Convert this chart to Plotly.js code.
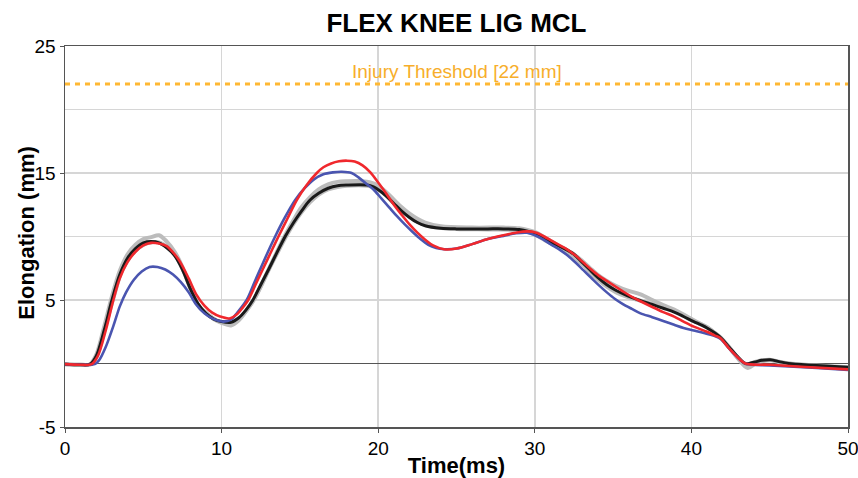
<!DOCTYPE html>
<html>
<head>
<meta charset="utf-8">
<script src="https://cdn.plot.ly/plotly-3.0.1.min.js"></script>
<style>html,body{margin:0;padding:0;background:#fff;}#chart{width:858px;height:478px;}</style>
</head>
<body>
<div id="chart"></div>
<script>
// Black curve
var blackT = [0,1.0,1.6,2.0,2.5,3.0,3.5,4.0,4.5,5.0,5.5,6.0,6.5,7.0,7.5,8.0,8.5,9.0,9.5,10.0,10.6,11.1,11.55,12.0,12.5,13.0,13.5,14.06,14.6,15.1,15.65,16.2,16.8,17.4,18.0,19.3,19.7,20.1,20.5,21.0,21.5,22.0,22.5,23.0,24.0,25.0,26.0,27.0,28.0,29.0,29.6,30.1,30.6,31.2,31.8,32.5,33.0,33.5,34.0,34.6,35.2,35.9,36.75,37.5,38.2,38.9,39.5,40.15,40.6,41.0,41.5,41.9,42.4,42.9,43.45,44.0,44.5,45.05,45.6,46.2,48.0,50.0];
var blackY = [-0.05,-0.1,-0.05,0.6,2.6,5.0,7.0,8.3,9.05,9.5,9.6,9.5,9.1,8.5,7.4,5.9,4.7,3.95,3.5,3.3,3.25,3.6,4.2,5.0,6.2,7.4,8.65,10.0,11.1,12.0,12.87,13.4,13.8,14.0,14.05,14.05,13.9,13.6,13.2,12.6,12.0,11.5,11.1,10.85,10.65,10.6,10.6,10.6,10.6,10.55,10.4,10.2,9.85,9.45,9.1,8.6,8.0,7.4,6.8,6.2,5.75,5.35,4.95,4.65,4.35,4.05,3.7,3.3,3.05,2.8,2.4,2.0,1.3,0.6,0.0,0.1,0.25,0.3,0.15,0.0,-0.15,-0.3];

// Red curve
var redT = [0,1.0,1.7,2.1,2.6,3.09,3.5,4.0,4.5,5.0,5.5,6.0,6.5,7.0,7.35,7.9,8.4,8.9,9.4,9.9,10.5,11.0,11.35,11.7,12.2,12.7,13.2,13.63,14.2,14.8,15.4,16.08,16.5,17.0,17.5,18.0,18.5,19.0,19.5,20.0,20.5,21.0,21.5,22.0,22.5,23.0,23.5,24.2,25.0,26.0,27.0,28.0,28.8,29.5,30.1,30.6,31.1,31.6,32.1,32.6,33.1,33.6,34.1,34.6,35.1,35.6,36.2,36.75,37.5,38.2,38.9,39.5,40.15,41.0,41.5,41.85,42.4,42.9,43.45,45.0,47.0,50.0];
var redY = [-0.05,-0.1,-0.05,0.6,2.6,5.0,6.7,8.0,8.8,9.3,9.5,9.45,9.25,8.6,8.0,6.7,5.4,4.55,4.0,3.7,3.55,3.9,4.4,5.0,6.3,7.6,8.9,10.0,11.4,12.87,14.0,15.0,15.45,15.75,15.92,15.97,15.9,15.6,15.05,14.25,13.4,12.5,11.7,10.95,10.3,9.75,9.3,9.0,9.05,9.4,9.8,10.1,10.3,10.4,10.3,10.0,9.65,9.3,8.95,8.5,7.95,7.4,6.9,6.5,6.1,5.7,5.25,4.9,4.45,4.05,3.69,3.3,2.9,2.5,2.2,2.0,1.2,0.55,0.0,-0.1,-0.25,-0.46];

// Blue curve
var blueT = [0,1.0,1.9,2.2,2.6,3.1,3.5,3.9,4.4,4.9,5.4,5.9,6.4,6.9,7.4,7.9,8.4,8.9,9.4,10.1,10.6,11.0,11.6,12.1,12.6,13.0,13.42,14.0,14.7,15.3,15.9,16.5,17.1,17.68,18.3,18.8,19.3,19.7,20.2,20.7,21.2,21.7,22.2,22.7,23.2,23.7,24.2,25.0,26.0,27.0,28.0,28.8,29.5,30.0,30.5,31.0,31.6,32.1,32.6,33.1,33.6,34.1,34.6,35.1,35.6,36.2,36.75,37.5,38.2,38.9,39.5,40.15,40.8,41.4,41.85,42.4,42.9,43.45,45.0,48.0,50.0];
var blueY = [-0.05,-0.1,-0.05,0.3,1.3,3.0,4.5,5.6,6.6,7.25,7.6,7.6,7.4,7.0,6.4,5.6,4.6,3.95,3.55,3.3,3.45,4.0,5.0,6.4,7.8,8.9,10.0,11.4,12.87,13.8,14.5,14.9,15.05,15.1,15.0,14.6,14.1,13.7,13.0,12.3,11.6,10.95,10.35,9.8,9.35,9.1,9.0,9.05,9.4,9.8,10.05,10.25,10.3,10.1,9.8,9.4,8.95,8.5,7.95,7.35,6.75,6.15,5.6,5.1,4.7,4.3,3.95,3.65,3.35,3.05,2.8,2.6,2.4,2.2,1.95,1.2,0.55,0.0,-0.15,-0.35,-0.5];

// Grey corridor curves
var greyAT = [0,1.0,1.6,2.0,2.5,3.0,3.5,4.0,4.5,5.0,5.5,6.0,6.5,7.0,7.5,8.0,8.5,9.0,9.5,10.0,10.6,11.1,11.55,12.0,12.5,13.0,13.5,14.06,14.6,15.1,15.65,16.2,16.8,17.4,18.0,19.0,19.5,20.0,20.5,21.0,21.5,22.0,22.5,23.0,24.0,26.0,28.0,29.0,29.6,30.1,30.6,31.2,31.8,32.5,33.0,33.5,34.0,34.6,35.2,35.9,36.75,37.5,38.2,38.9,39.5,40.15,40.6,41.0,41.5,41.9,42.4,42.9,43.6,44.1,44.6,45.1,45.6,46.2,48.0,50.0];
var greyAY = [-0.05,-0.1,-0.05,0.7,2.9,5.3,7.3,8.6,9.35,9.8,9.95,10.1,9.6,8.8,7.6,6.0,4.6,4.0,3.5,3.2,3.0,3.4,4.1,4.9,6.1,7.4,8.7,10.1,11.3,12.3,13.1,13.7,14.1,14.3,14.35,14.35,14.25,14.0,13.5,12.9,12.3,11.8,11.4,11.1,10.8,10.7,10.7,10.65,10.5,10.3,9.95,9.5,9.1,8.6,8.1,7.55,7.0,6.5,6.1,5.75,5.45,5.0,4.6,4.25,3.85,3.4,3.1,2.85,2.4,2.0,1.3,0.5,-0.36,0.0,0.2,0.25,0.1,0.0,-0.15,-0.3];

var greyBT = [0,1.0,1.7,2.1,2.6,3.1,3.6,4.1,4.6,5.1,5.6,6.1,6.6,7.1,7.6,8.1,8.6,9.1,9.6,10.1,10.6,11.1,11.6,12.1,12.6,13.1,13.6,14.1,14.6,15.1,15.65,16.2,16.8,17.4,18.0,19.3,19.8,20.3,20.8,21.3,21.8,22.3,22.8,23.5,25.0,27.0,29.0,29.6,30.1,30.6,31.2,31.8,32.5,33.0,33.5,34.0,34.6,35.2,35.9,36.75,37.5,38.2,38.9,39.5,40.15,40.6,41.0,41.5,41.9,42.4,42.9,43.5,44.0,44.5,45.0,45.6,46.2,48.0,50.0];
var greyBY = [-0.05,-0.1,-0.05,0.8,3.0,5.2,7.2,8.3,9.0,9.4,9.55,9.5,9.1,8.4,7.2,5.6,4.4,3.9,3.45,3.2,3.1,3.5,4.2,5.1,6.3,7.6,8.8,9.95,11.0,11.9,12.7,13.3,13.7,13.9,14.0,14.0,13.85,13.45,12.9,12.3,11.75,11.3,11.0,10.75,10.6,10.55,10.5,10.35,10.1,9.75,9.35,8.95,8.4,7.85,7.25,6.65,6.05,5.6,5.25,4.95,4.7,4.45,4.15,3.8,3.35,3.1,2.85,2.4,2.0,1.3,0.55,-0.1,0.1,0.25,0.3,0.15,0.0,-0.2,-0.35];

var thresholdX = [0,50];
var thresholdY = [22,22];
var thresholdLabel = 'Injury Threshold [22 mm]';

var yTickVals = [-5,5,15,25];
var yTickText = ['-5','5','15','25'];

var FONT = 'Liberation Sans, Arial, sans-serif';
var GREY = '#bcbcbc';
var SM = 0.9;

var traces = [
  {x: thresholdX, y: thresholdY, mode:'lines', line:{color:'#FFB833', width:3, dash:'5px,5px'}, hoverinfo:'skip'},
  {x: greyAT, y: greyAY, mode:'lines', line:{color:GREY, width:4, shape:'spline', smoothing:SM}},
  {x: greyBT, y: greyBY, mode:'lines', line:{color:GREY, width:4, shape:'spline', smoothing:SM}},
  {x: blackT, y: blackY, mode:'lines', line:{color:'#1a1a1a', width:3, shape:'spline', smoothing:SM}},
  {x: blueT, y: blueY, mode:'lines', line:{color:'#4a55b0', width:2.6, shape:'spline', smoothing:SM}},
  {x: redT, y: redY, mode:'lines', line:{color:'#f0282d', width:2.6, shape:'spline', smoothing:SM}}
];

var layout = {
  width: 858, height: 478,
  margin: {l:65, r:10, t:46, b:51},
  paper_bgcolor:'#ffffff', plot_bgcolor:'#ffffff',
  showlegend:false,
  font:{family:FONT, color:'#000'},
  title:{text:'FLEX KNEE LIG MCL', font:{family:FONT, size:26, weight:'bold', color:'#000'}, x:0.532, xref:'container', xanchor:'center', y:0.953, yref:'container', yanchor:'middle'},
  xaxis:{
    range:[0,50], dtick:10, tick0:0,
    showgrid:true, gridcolor:'#d6d6d6', gridwidth:1.5,
    showline:true, linecolor:'#555', linewidth:1.5, mirror:true,
    ticks:'outside', ticklen:4, tickcolor:'#555',
    ticklabeloverflow:'allow',
    zeroline:false,
    tickfont:{family:FONT, size:19, color:'#000'},
    title:{text:'Time(ms)', font:{family:FONT, size:22, weight:'bold', color:'#000'}, standoff:0}
  },
  yaxis:{
    range:[-5,25], tickmode:'array', tickvals:yTickVals, ticktext:yTickText,
    showgrid:true, gridcolor:'#d6d6d6', gridwidth:1.5,
    minor:{tickmode:'linear', dtick:5, tick0:0, showgrid:true, gridcolor:'#d6d6d6', gridwidth:1.5, ticks:''},
    showline:true, linecolor:'#555', linewidth:1.5, mirror:true,
    ticks:'outside', ticklen:4, tickcolor:'#555',
    zeroline:true, zerolinecolor:'#555', zerolinewidth:1.5,
    tickfont:{family:FONT, size:19, color:'#000'}
  },
  annotations:[
    {x:25, y:22, xref:'x', yref:'y', text:thresholdLabel, showarrow:false, yshift:13,
     font:{family:FONT, size:19, color:'#F7AE2A'}},
    {x:0, y:0.51, xref:'paper', yref:'paper', text:'Elongation (mm)', textangle:-90, showarrow:false,
     xanchor:'center', yanchor:'middle', xshift:-38,
     font:{family:FONT, size:22, weight:'bold', color:'#000'}}
  ]
};

Plotly.newPlot('chart', traces, layout, {displayModeBar:false, staticPlot:true});
</script>
</body>
</html>
